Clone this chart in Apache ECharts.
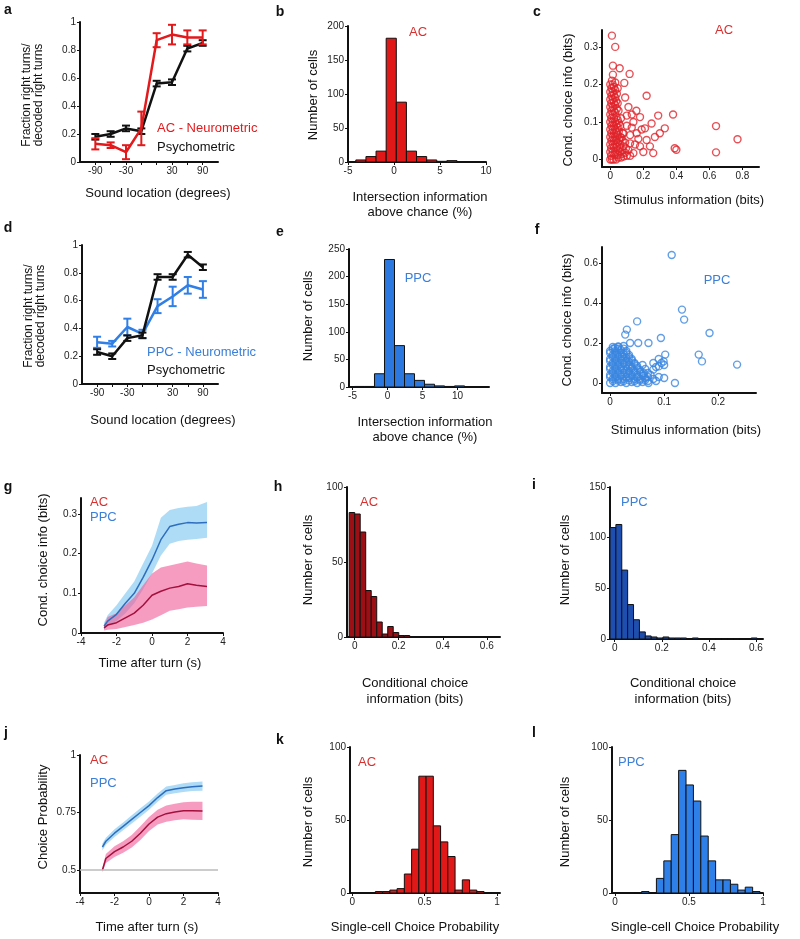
<!DOCTYPE html>
<html><head><meta charset="utf-8">
<script src="https://cdn.jsdelivr.net/npm/echarts@6/dist/echarts.min.js"></script>
<style>html,body{margin:0;padding:0;background:#fff}#c{width:800px;height:939px}</style>
</head><body><div id="c"></div><script>
// ---------- DATA ----------
const soundLocations = ['-90','-60','-30','-15','15','30','60','90'];
const soundLabelIdx = [0,2,5,7];
// panel a
const acNeuro    = [0.13,0.12,0.07,0.24,0.87,0.91,0.89,0.89];
const acNeuroErr = [0.04,0.02,0.05,0.12,0.05,0.07,0.05,0.05];
const psychA     = [0.18,0.20,0.24,0.22,0.56,0.57,0.81,0.85];
const psychAErr  = [0.02,0.02,0.02,0.02,0.02,0.02,0.02,0.02];
// panel d
const ppcNeuro    = [0.30,0.29,0.41,0.36,0.56,0.63,0.71,0.68];
const ppcNeuroErr = [0.04,0.02,0.06,0.03,0.05,0.07,0.06,0.06];
const psychD      = [0.23,0.20,0.33,0.35,0.77,0.77,0.93,0.84];
const psychDErr   = [0.02,0.02,0.02,0.02,0.02,0.02,0.02,0.02];
// panel b histogram
const bEdges  = [-4.15,-3.05,-1.95,-0.85,0.25,1.35,2.45,3.55,4.65,5.75,6.85];
const bCounts = [3,8,16,182,88,16,8,3,1,2];
// panel e histogram
const eEdges  = [-4.72,-3.29,-1.86,-0.43,1.0,2.43,3.86,5.29,6.72,8.15,9.58,11.01];
const eCounts = [1,1,24,231,75,24,12,5,2,1,2];
// panel h histogram
const hEdges  = [-0.025,0,0.025,0.05,0.075,0.1,0.125,0.15,0.175,0.2,0.225,0.25];
const hCounts = [83,82,70,31,27,10,2,7,3,1,1];
// panel i histogram
const iEdges  = [-0.02,0.005,0.03,0.055,0.08,0.105,0.13,0.155,0.18,0.205,0.23,0.255,0.28,0.305,0.33,0.355,0.38,0.405,0.43,0.455,0.48,0.505,0.53,0.555,0.58,0.605,0.63];
const iCounts = [110,113,68,34,19,7,3,2,1,2,1,1,1,0,1,0,0,0,0,0,0,0,0,0,1,0];
// panel k histogram
const kEdges  = [0.16,0.21,0.26,0.31,0.36,0.41,0.46,0.51,0.56,0.61,0.66,0.71,0.76,0.81,0.86,0.91,0.96];
const kCounts = [1,1,2,3,13,30,80,80,46,35,25,2,9,2,1,0];
// panel l histogram
const lEdges  = [0.13,0.18,0.23,0.28,0.33,0.38,0.43,0.48,0.53,0.58,0.63,0.68,0.73,0.78,0.83,0.88,0.93,0.98];
const lCounts = [0,1,0,10,22,40,84,74,63,39,22,9,9,6,2,4,1];
// panel c scatter (stimulus info, cond. choice info)
const acScatter = [
 [0.01,0.33],[0.03,0.30],[0.016,0.25],[0.057,0.243],[0.016,0.226],[0.117,0.228],[0.085,0.204],[0.22,0.17],
 [0.09,0.165],[0.158,0.13],[0.10,0.117],[0.18,0.113],[0.29,0.117],[0.38,0.12],[0.25,0.096],[0.33,0.083],
 [0.30,0.07],[0.27,0.06],[0.22,0.052],[0.16,0.07],[0.18,0.035],[0.26,0.017],[0.39,0.03],[0.40,0.026],
 [0.64,0.089],[0.77,0.054],[0.64,0.019],[0.14,0.017],[0.2,0.02],[0.12,0.043],[0.08,0.07],[0.14,0.1],[0.21,0.083],
 [0.13,0.085],[0.17,0.055],[0.12,0.065],[0.15,0.04],[0.1,0.09],[0.11,0.14],[0.13,0.12],[0.19,0.08],[0.24,0.035],
 [0.0,0.0],[0.01,0.0],[0.02,0.0],[0.035,0.0],[0.05,0.005],[0.065,0.005],[0.08,0.008],[0.1,0.01],[0.12,0.01],
 [0.005,0.01],[0.025,0.012],[0.045,0.012],[0.07,0.015],[0.09,0.018],
 [0.0,0.02],[0.015,0.02],[0.03,0.02],[0.045,0.025],[0.06,0.02],[0.075,0.025],[0.095,0.03],[0.11,0.025],
 [0.005,0.03],[0.022,0.032],[0.04,0.033],[0.058,0.03],[0.08,0.035],
 [0.0,0.04],[0.015,0.04],[0.03,0.04],[0.045,0.045],[0.06,0.04],[0.075,0.05],[0.09,0.045],
 [0.007,0.05],[0.022,0.05],[0.038,0.052],[0.055,0.052],[0.068,0.058],
 [0.0,0.06],[0.015,0.06],[0.03,0.06],[0.045,0.065],[0.06,0.06],[0.075,0.07],
 [0.006,0.07],[0.022,0.07],[0.038,0.072],[0.052,0.075],
 [0.0,0.08],[0.015,0.08],[0.03,0.08],[0.045,0.085],[0.06,0.09],
 [0.007,0.09],[0.022,0.09],[0.038,0.093],[0.052,0.097],
 [0.0,0.1],[0.015,0.1],[0.03,0.1],[0.045,0.105],[0.065,0.11],
 [0.006,0.11],[0.022,0.11],[0.038,0.113],
 [0.0,0.12],[0.015,0.12],[0.03,0.125],[0.05,0.13],
 [0.007,0.13],[0.022,0.13],[0.04,0.135],
 [0.0,0.14],[0.015,0.14],[0.03,0.145],[0.045,0.15],
 [0.006,0.15],[0.022,0.152],[0.036,0.155],
 [0.0,0.16],[0.015,0.16],[0.03,0.165],
 [0.007,0.17],[0.022,0.172],[0.04,0.175],
 [0.0,0.18],[0.015,0.18],[0.03,0.185],[0.045,0.19],
 [0.007,0.19],[0.022,0.193],
 [0.0,0.2],[0.015,0.2],[0.03,0.205],[0.01,0.21]
];
// panel f scatter
const ppcScatter = [
 [0.114,0.64],[0.133,0.367],[0.137,0.317],[0.05,0.308],[0.031,0.267],[0.028,0.242],[0.037,0.2],[0.052,0.2],
 [0.071,0.2],[0.094,0.225],[0.184,0.25],[0.164,0.142],[0.17,0.108],[0.235,0.092],[0.102,0.142],[0.099,0.108],
 [0.09,0.083],[0.12,0.0],[0.10,0.025],[0.071,0.0],[0.08,0.067],[0.062,0.05],[0.022,0.133],[0.009,0.175],[0.015,0.183],
 [0.08,0.1],[0.09,0.12],[0.095,0.1],[0.085,0.08],[0.1,0.09],[0.075,0.04],[0.09,0.03],
 [0.0,0.0],[0.01,0.0],[0.02,0.005],[0.03,0.0],[0.04,0.005],[0.05,0.0],[0.06,0.005],[0.07,0.01],[0.085,0.01],
 [0.005,0.01],[0.015,0.012],[0.025,0.01],[0.035,0.013],[0.045,0.01],[0.055,0.012],[0.065,0.015],
 [0.005,0.02],[0.015,0.02],[0.025,0.02],[0.035,0.025],[0.045,0.02],[0.055,0.02],[0.065,0.025],[0.08,0.02],
 [0.0,0.03],[0.01,0.03],[0.02,0.032],[0.03,0.03],[0.04,0.033],[0.05,0.03],[0.06,0.035],[0.07,0.03],
 [0.0,0.04],[0.01,0.04],[0.02,0.04],[0.03,0.045],[0.04,0.04],[0.05,0.04],[0.06,0.045],[0.07,0.05],
 [0.005,0.05],[0.015,0.05],[0.025,0.052],[0.035,0.05],[0.045,0.053],[0.055,0.055],
 [0.005,0.06],[0.015,0.06],[0.025,0.065],[0.035,0.06],[0.045,0.06],[0.055,0.065],[0.065,0.07],
 [0.0,0.07],[0.01,0.07],[0.02,0.072],[0.03,0.07],[0.04,0.073],[0.05,0.075],
 [0.0,0.08],[0.01,0.08],[0.02,0.08],[0.03,0.085],[0.04,0.08],[0.05,0.085],[0.06,0.09],
 [0.005,0.09],[0.015,0.09],[0.025,0.093],[0.035,0.09],[0.045,0.095],
 [0.005,0.1],[0.015,0.1],[0.025,0.1],[0.035,0.105],[0.045,0.1],
 [0.0,0.11],[0.01,0.11],[0.02,0.112],[0.03,0.11],[0.04,0.113],
 [0.0,0.12],[0.01,0.12],[0.02,0.12],[0.03,0.125],[0.04,0.12],
 [0.005,0.13],[0.015,0.13],[0.025,0.132],[0.035,0.13],
 [0.005,0.14],[0.015,0.14],[0.025,0.145],[0.035,0.14],
 [0.0,0.15],[0.01,0.15],[0.02,0.152],[0.03,0.15],
 [0.0,0.16],[0.01,0.16],[0.02,0.165],[0.03,0.16],
 [0.005,0.17],[0.015,0.17],[0.025,0.172],
 [0.005,0.18],[0.015,0.18],[0.025,0.185]
];
// panel g: conditional choice info over time
const gTime   = [-2.7,-2.5,-2,-1.5,-1,-0.5,0,0.5,1,1.5,2,2.5,3.1];
const gPpc    = [0.017,0.03,0.047,0.075,0.10,0.14,0.184,0.235,0.268,0.274,0.278,0.277,0.278];
const gPpcHi  = [0.026,0.045,0.07,0.10,0.13,0.175,0.22,0.29,0.31,0.315,0.318,0.32,0.33];
const gPpcLo  = [0.009,0.018,0.03,0.05,0.075,0.11,0.15,0.195,0.225,0.232,0.235,0.237,0.24];
const gAc     = [0.013,0.02,0.026,0.038,0.05,0.07,0.095,0.105,0.113,0.117,0.124,0.12,0.117];
const gAcHi   = [0.02,0.04,0.05,0.07,0.09,0.12,0.15,0.165,0.17,0.175,0.18,0.175,0.17];
const gAcLo   = [0.006,0.008,0.01,0.015,0.02,0.026,0.034,0.045,0.056,0.06,0.064,0.066,0.068];
// panel j: choice probability over time
const jTime   = [-2.7,-2.5,-2,-1.5,-1,-0.5,0,0.5,1,1.5,2,2.5,3.1];
const jPpc    = [0.60,0.625,0.66,0.69,0.72,0.75,0.78,0.815,0.845,0.852,0.858,0.862,0.865];
const jPpcHi  = [0.615,0.64,0.677,0.707,0.738,0.768,0.798,0.833,0.863,0.87,0.877,0.881,0.885];
const jPpcLo  = [0.585,0.61,0.643,0.673,0.702,0.732,0.762,0.797,0.827,0.834,0.839,0.843,0.845];
const jAc     = [0.50,0.55,0.58,0.60,0.625,0.66,0.70,0.73,0.745,0.752,0.758,0.758,0.757];
const jAcHi   = [0.51,0.57,0.603,0.625,0.652,0.69,0.73,0.762,0.78,0.788,0.795,0.797,0.797];
const jAcLo   = [0.49,0.53,0.557,0.575,0.598,0.63,0.67,0.698,0.71,0.716,0.721,0.719,0.717];
const chanceLevel = 0.5;
// tick label values
const ticksFrac = [0,0.2,0.4,0.6,0.8,1];
const ticksB_x = [-5,0,5,10], ticksB_y = [0,50,100,150,200];
const ticksC_x = [0,0.2,0.4,0.6,0.8], ticksC_y = [0,0.1,0.2,0.3];
const ticksE_x = [-5,0,5,10], ticksE_y = [0,50,100,150,200,250];
const ticksF_x = [0,0.1,0.2], ticksF_y = [0,0.2,0.4,0.6];
const ticksTime = [-4,-2,0,2,4];
const ticksG_y = [0,0.1,0.2,0.3];
const ticksH_x = [0,0.2,0.4,0.6], ticksH_y = [0,50,100];
const ticksI_x = [0,0.2,0.4,0.6], ticksI_y = [0,50,100,150];
const ticksJ_y = [0.5,0.75,1];
const ticksK_x = [0,0.5,1], ticksK_y = [0,50,100];

// ---------- STYLE ----------
const FONT = "'Liberation Sans', Arial, Helvetica, sans-serif";
const RED = '#e3191c', DARKRED = '#9c0f14', BLUE = '#2f7fe6', DARKBLUE = '#1e4fb0';
const REDTXT = '#d8302f', BLUETXT = '#3b7fd8';

function vAxis(gi, min, max, labelVals, tickVals, fmt) {
  const a = {
    type:'value', gridIndex:gi, min:min, max:max,
    axisLine:{show:true, onZero:false, lineStyle:{color:'#111', width:2}},
    axisTick:{show:true, length:3, lineStyle:{color:'#111', width:1}, customValues: tickVals || labelVals},
    axisLabel:{show:true, fontSize:10, color:'#222', margin:4, fontFamily:FONT, customValues: labelVals},
    splitLine:{show:false}
  };
  if (fmt) a.axisLabel.formatter = fmt;
  return a;
}
const locFmt = v => soundLocations[Math.round(v)];
const locTicks = soundLocations.map((s,i)=>i);

const grids = [
  {left:80, top:22, width:138, height:140},
  {left:348, top:26, width:138, height:136},
  {left:602, top:30, width:157, height:137},
  {left:82, top:245, width:136, height:139},
  {left:349, top:249, width:140, height:138},
  {left:602, top:247, width:154, height:146},
  {left:81, top:498, width:142, height:135},
  {left:347, top:487, width:153, height:150},
  {left:610, top:487, width:153, height:152},
  {left:80, top:755, width:138, height:138},
  {left:350, top:747, width:150, height:146},
  {left:612, top:747, width:151, height:146}
];
const xAxes = [
  vAxis(0,-1,8,soundLabelIdx,locTicks,locFmt),
  vAxis(1,-5,10,ticksB_x),
  vAxis(2,-0.05,0.9,ticksC_x),
  vAxis(3,-1,8,soundLabelIdx,locTicks,locFmt),
  vAxis(4,-5.5,14.5,ticksE_x),
  vAxis(5,-0.015,0.27,ticksF_x),
  vAxis(6,-4,4,ticksTime),
  vAxis(7,-0.035,0.66,ticksH_x),
  vAxis(8,-0.02,0.63,ticksI_x),
  vAxis(9,-4,4,ticksTime),
  vAxis(10,-0.015,1.02,ticksK_x),
  vAxis(11,-0.02,1.0,ticksK_x)
];
const yAxes = [
  vAxis(0,0,1,ticksFrac),
  vAxis(1,0,200,ticksB_y),
  vAxis(2,-0.02,0.345,ticksC_y),
  vAxis(3,0,1,ticksFrac),
  vAxis(4,0,250,ticksE_y),
  vAxis(5,-0.05,0.68,ticksF_y),
  vAxis(6,0,0.34,ticksG_y),
  vAxis(7,0,100,ticksH_y),
  vAxis(8,0,150,ticksI_y),
  vAxis(9,0.4,1,ticksJ_y),
  vAxis(10,0,100,ticksK_y),
  vAxis(11,0,100,ticksK_y)
];

function histSeries(gi, edges, counts, fill) {
  return {type:'custom', xAxisIndex:gi, yAxisIndex:gi, silent:true, z:3,
    data: counts.map((c,i)=>[edges[i], edges[i+1], c]), encode:{x:[0,1], y:2},
    renderItem:(p, api)=>{
      const p0 = api.coord([api.value(0), api.value(2)]);
      const p1 = api.coord([api.value(1), 0]);
      return {type:'rect', shape:{x:p0[0], y:p0[1], width:p1[0]-p0[0], height:p1[1]-p0[1]},
              style:{fill:fill, stroke:'#111', lineWidth:1}};
    }};
}
function lineSeries(gi, xs, ys, color, w, z) {
  return {type:'line', xAxisIndex:gi, yAxisIndex:gi, silent:true, symbol:'none', z:z||4,
    data: ys.map((v,i)=>[xs[i], v]), lineStyle:{color:color, width:w}, itemStyle:{color:color}};
}
function errSeries(gi, means, errs, color, z) {
  return {type:'custom', xAxisIndex:gi, yAxisIndex:gi, silent:true, z:z||4,
    data: means.map((m,i)=>[i, m, errs[i]]), encode:{x:0, y:1},
    renderItem:(p, api)=>{
      const x = api.value(0), m = api.value(1), e = api.value(2);
      const t = api.coord([x, m+e]), b = api.coord([x, m-e]);
      const st = {stroke:color, lineWidth:2};
      return {type:'group', children:[
        {type:'line', shape:{x1:t[0],y1:t[1],x2:b[0],y2:b[1]}, style:st},
        {type:'line', shape:{x1:t[0]-4,y1:t[1],x2:t[0]+4,y2:t[1]}, style:st},
        {type:'line', shape:{x1:b[0]-4,y1:b[1],x2:b[0]+4,y2:b[1]}, style:st}
      ]};
    }};
}
function bandSeries(gi, xs, lo, hi, fill) {
  return {type:'custom', xAxisIndex:gi, yAxisIndex:gi, silent:true, z:2,
    data:[[xs[0], lo[0]]], encode:{x:0, y:1},
    renderItem:(p, api)=>{
      const pts = [];
      for (let i=0;i<xs.length;i++) pts.push(api.coord([xs[i], hi[i]]));
      for (let i=xs.length-1;i>=0;i--) pts.push(api.coord([xs[i], lo[i]]));
      return {type:'polygon', shape:{points:pts}, style:{fill:fill}};
    }};
}
function scatterSeries(gi, data, color) {
  return {type:'scatter', xAxisIndex:gi, yAxisIndex:gi, silent:true, z:4, data:data,
    symbol:'circle', symbolSize:7,
    itemStyle:{color:'rgba(0,0,0,0)', borderColor:color, borderWidth:1.4}};
}

const series = [
  // a
  lineSeries(0, locTicks, psychA, '#111', 2.5, 4), errSeries(0, psychA, psychAErr, '#111', 4),
  lineSeries(0, locTicks, acNeuro, RED, 2.5, 5), errSeries(0, acNeuro, acNeuroErr, RED, 5),
  // b
  histSeries(1, bEdges, bCounts, '#e01818'),
  // c
  scatterSeries(2, acScatter, '#e0242c'),
  // d
  lineSeries(3, locTicks, ppcNeuro, BLUE, 2.5, 4), errSeries(3, ppcNeuro, ppcNeuroErr, BLUE, 4),
  lineSeries(3, locTicks, psychD, '#111', 2.5, 5), errSeries(3, psychD, psychDErr, '#111', 5),
  // e
  histSeries(4, eEdges, eCounts, '#2a78e0'),
  // f
  scatterSeries(5, ppcScatter, '#3a86e0'),
  // g
  bandSeries(6, gTime, gPpcLo, gPpcHi, 'rgba(130,200,240,0.65)'),
  bandSeries(6, gTime, gAcLo, gAcHi, 'rgba(240,90,150,0.6)'),
  lineSeries(6, gTime, gPpc, '#2d6fbe', 1.5, 4),
  lineSeries(6, gTime, gAc, '#a3103c', 1.5, 4),
  // h
  histSeries(7, hEdges, hCounts, DARKRED),
  // i
  histSeries(8, iEdges, iCounts, DARKBLUE),
  // j
  Object.assign(bandSeries(9, jTime, jPpcLo, jPpcHi, 'rgba(130,200,240,0.65)'), {
    markLine:{silent:true, symbol:'none', label:{show:false},
      lineStyle:{color:'#bbbbbb', width:1.5, type:'solid'}, data:[{yAxis:chanceLevel}]}
  }),
  bandSeries(9, jTime, jAcLo, jAcHi, 'rgba(240,90,150,0.6)'),
  lineSeries(9, jTime, jPpc, '#2d6fbe', 1.5, 4),
  lineSeries(9, jTime, jAc, '#a3103c', 1.5, 4),
  // k
  histSeries(10, kEdges, kCounts, '#e01818'),
  // l
  histSeries(11, lEdges, lCounts, '#2f7fe8')
];

// ---------- TEXT ----------
function T(text, x, y, o) {
  o = o || {};
  const align = o.align || 'center';
  return {type:'text', x:x, y:y, rotation:o.rot||0, silent:true, z:100,
    style:{text:text, fill:o.color||'#111', font:(o.bold?'bold ':'')+(o.size||13)+'px '+FONT,
      align:align, textAlign:align, verticalAlign:'middle', textVerticalAlign:'middle', lineHeight:o.lh||14}};
}
const R = Math.PI/2;
const texts = [
  // panel letters
  T('a',8,10,{bold:true,size:14}), T('b',280,12,{bold:true,size:14}), T('c',537,12,{bold:true,size:14}),
  T('d',8,228,{bold:true,size:14}), T('e',280,232,{bold:true,size:14}), T('f',537,230,{bold:true,size:14}),
  T('g',8,487,{bold:true,size:14}), T('h',278,487,{bold:true,size:14}), T('i',534,485,{bold:true,size:14}),
  T('j',6,733,{bold:true,size:14}), T('k',280,740,{bold:true,size:14}), T('l',534,733,{bold:true,size:14}),
  // a
  T('Fraction right turns/\ndecoded right turns',33,95,{rot:R,size:12,lh:12}),
  T('Sound location (degrees)',158,193),
  T('AC - Neurometric',157,128,{align:'left',color:RED}),
  T('Psychometric',157,147,{align:'left'}),
  // b
  T('Number of cells',313,95,{rot:R}),
  T('Intersection information\nabove chance (%)',420,205,{lh:15}),
  T('AC',418,32,{color:REDTXT}),
  // c
  T('Cond. choice info (bits)',568,100,{rot:R}),
  T('Stimulus information (bits)',689,200),
  T('AC',724,30,{color:REDTXT}),
  // d
  T('Fraction right turns/\ndecoded right turns',35,316,{rot:R,size:12,lh:12}),
  T('Sound location (degrees)',163,420),
  T('PPC - Neurometric',147,352,{align:'left',color:BLUETXT}),
  T('Psychometric',147,370,{align:'left'}),
  // e
  T('Number of cells',308,316,{rot:R}),
  T('Intersection information\nabove chance (%)',425,430,{lh:15}),
  T('PPC',418,278,{color:BLUETXT}),
  // f
  T('Cond. choice info (bits)',567,320,{rot:R}),
  T('Stimulus information (bits)',686,430),
  T('PPC',717,280,{color:BLUETXT}),
  // g
  T('Cond. choice info (bits)',43,560,{rot:R}),
  T('Time after turn (s)',150,663),
  T('AC',90,502,{align:'left',color:REDTXT}),
  T('PPC',90,517,{align:'left',color:BLUETXT}),
  // h
  T('Number of cells',308,560,{rot:R}),
  T('Conditional choice\ninformation (bits)',415,691,{lh:16}),
  T('AC',360,502,{align:'left',color:REDTXT}),
  // i
  T('Number of cells',565,560,{rot:R}),
  T('Conditional choice\ninformation (bits)',683,691,{lh:16}),
  T('PPC',621,502,{align:'left',color:BLUETXT}),
  // j
  T('Choice Probability',43,817,{rot:R}),
  T('Time after turn (s)',147,927),
  T('AC',90,760,{align:'left',color:REDTXT}),
  T('PPC',90,783,{align:'left',color:BLUETXT}),
  // k
  T('Number of cells',308,822,{rot:R}),
  T('Single-cell Choice Probability',415,927),
  T('AC',358,762,{align:'left',color:REDTXT}),
  // l
  T('Number of cells',565,822,{rot:R}),
  T('Single-cell Choice Probability',695,927),
  T('PPC',618,762,{align:'left',color:BLUETXT})
];

const chart = echarts.init(document.getElementById('c'), null, {renderer:'canvas', width:800, height:939});
chart.setOption({
  animation:false, backgroundColor:'#fff',
  grid:grids, xAxis:xAxes, yAxis:yAxes, series:series, graphic:texts
});
</script></body></html>
